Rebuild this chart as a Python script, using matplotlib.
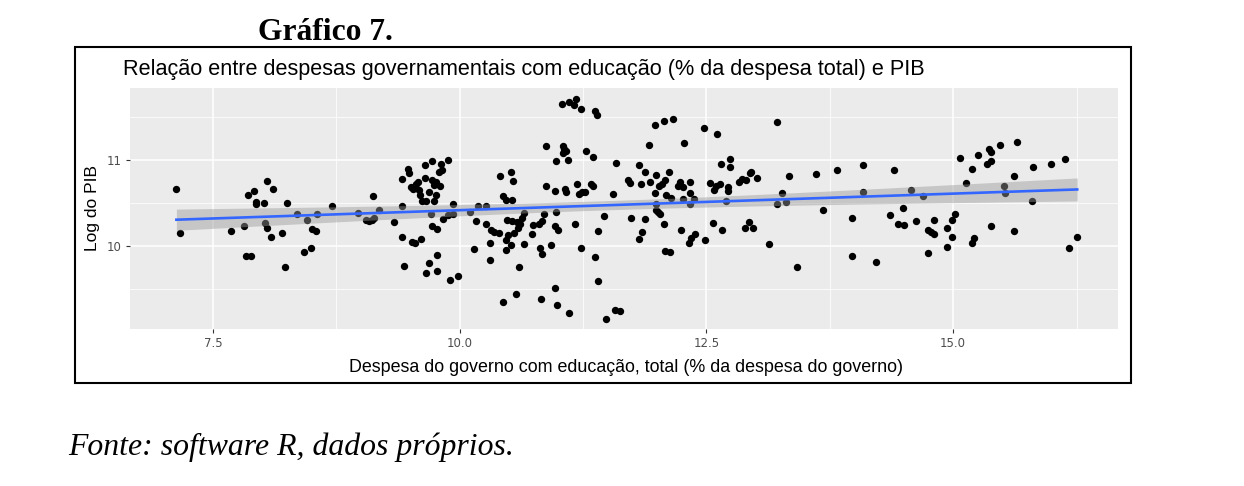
import numpy as np
import matplotlib
matplotlib.use("Agg")
import matplotlib.pyplot as plt
from matplotlib.patches import Rectangle

# despesa com educação (% da despesa do governo)
edu_spend = [
    7.13, 7.17, 7.68, 7.82, 7.84, 7.89, 7.855, 7.915, 7.935, 7.935, 8.017, 8.047,
    8.108, 8.027, 8.05, 8.088, 8.2, 8.226, 8.25, 8.35, 8.42, 8.49, 8.45, 8.50,
    8.54, 8.55, 8.706, 8.97,
    9.047, 9.08, 9.115, 9.13, 9.12, 9.18,
    9.42, 9.48, 9.486, 9.645, 9.723, 9.814, 9.885, 9.824, 9.79, 9.51, 9.554, 9.574,
    9.53, 9.588, 9.598, 9.65, 9.723, 9.757, 9.74, 9.797, 9.686, 9.757, 9.615, 9.662,
    9.743, 9.42, 9.334, 9.706, 9.716, 9.774, 9.828, 9.885, 9.936, 9.936, 9.419, 9.52,
    9.547, 9.605, 9.436, 9.69, 9.767, 9.662, 9.767, 9.899, 9.986,
    10.1, 10.19, 10.27, 10.17, 10.27, 10.32, 10.35, 10.40, 10.31, 10.15, 10.31, 10.405,
    10.44, 10.466, 10.483, 10.466, 10.473, 10.49, 10.44,
    10.878, 10.973, 11.05, 11.06, 11.05, 11.08, 11.10, 11.04, 11.11, 11.18, 11.16, 11.23,
    11.375, 11.39, 11.28, 11.355,
    10.524, 10.537, 10.875, 10.97, 11.064, 11.077, 11.186, 11.21, 11.24, 11.27, 11.33, 11.35,
    11.55, 10.53, 10.53, 10.58, 10.63, 10.65, 10.615, 10.59, 10.55, 10.524, 10.65, 10.6,
    10.575, 10.74, 10.733, 10.8, 10.83, 10.858, 10.976, 10.97, 11.0, 10.81, 10.834, 10.926,
    11.166, 11.233, 11.463, 11.40, 11.368, 11.40, 10.97, 10.824, 10.986, 11.105, 11.483, 11.57,
    11.625, 11.585,
    11.98, 12.07, 12.16, 12.476, 12.61,
    12.953, 13.01, 13.216, 13.34, 13.216, 13.31, 13.27, 13.135, 13.42, 13.61, 13.68, 13.82,
    12.97,
    11.92, 12.27, 11.82, 11.88, 11.926, 11.986, 12.12, 11.71, 11.73, 11.84, 12.02, 12.05,
    12.08, 12.21, 12.23, 12.26, 12.33, 11.98, 12.09, 12.14, 12.26, 12.33, 12.375, 12.33,
    11.986, 11.99, 12.01, 12.03, 11.74, 11.875, 12.07, 11.85, 11.82, 12.24, 12.38, 12.34,
    12.32, 12.49, 12.08, 12.13, 12.57, 12.655, 12.65, 12.74, 12.74, 12.54, 12.58, 12.60,
    12.64, 12.72, 12.72, 12.70, 12.83, 12.865, 12.905, 12.94, 12.89, 12.93,
    13.97, 13.97, 14.085, 14.085, 14.22, 14.405, 14.36, 14.436, 14.50, 14.49, 14.57, 14.62,
    14.69, 14.75, 14.75, 14.78, 14.81, 14.81, 14.94, 14.99, 15.02, 14.99, 14.94, 15.07,
    15.135, 15.186, 15.186, 15.216, 15.25, 15.345, 15.38, 15.36, 15.385, 15.47, 15.385, 15.51,
    15.53, 15.62, 15.62, 15.65, 15.80, 15.81, 15.99, 16.135, 16.175, 16.257,
]

# log do PIB
log_pib = [
    10.665, 10.146, 10.18, 10.227, 9.885, 9.885, 10.596, 10.635, 10.51, 10.49, 10.50, 10.75,
    10.665, 10.27, 10.215, 10.10, 10.146, 9.754, 10.50, 10.369, 9.927, 9.973, 10.30, 10.196,
    10.173, 10.369, 10.469, 10.388,
    10.30, 10.285, 10.30, 10.32, 10.585, 10.423,
    10.78, 10.896, 10.85, 10.935, 10.985, 10.946, 11.0, 10.885, 10.858, 10.685, 10.723, 10.742,
    10.66, 10.646, 10.596, 10.79, 10.76, 10.742, 10.71, 10.69, 10.627, 10.588, 10.527, 10.523,
    10.523, 10.46, 10.277, 10.37, 10.238, 10.192, 10.308, 10.354, 10.37, 10.49, 10.10, 10.05,
    10.03, 10.077, 9.77, 9.808, 9.892, 9.685, 9.708, 9.608, 9.654,
    10.396, 10.465, 10.465, 10.29, 10.26, 10.185, 10.165, 10.146, 10.03, 9.965, 9.84, 10.81,
    10.577, 10.53, 10.30, 10.07, 9.954, 10.13, 9.354,
    11.158, 10.985, 11.16, 11.12, 11.08, 11.10, 11.0, 11.646, 11.665, 11.70, 11.635, 11.59,
    11.56, 11.52, 11.096, 11.035,
    10.858, 10.754, 10.70, 10.638, 10.658, 10.627, 10.723, 10.60, 10.627, 10.63, 10.715, 10.69,
    10.608, 10.538, 10.29, 10.28, 10.32, 10.385, 10.254, 10.215, 10.146, 10.01, 10.023, 9.754,
    9.446, 10.242, 10.138, 10.26, 10.29, 10.37, 10.396, 10.23, 10.19, 9.98, 9.904, 10.01,
    10.254, 9.977, 10.346, 10.177, 9.87, 9.596, 9.51, 9.39, 9.32, 9.223, 9.158, 9.26,
    9.246, 10.965,
    11.40, 11.446, 11.47, 11.365, 11.30,
    10.854, 10.79, 11.44, 10.81, 10.49, 10.51, 10.61, 10.02, 9.754, 10.84, 10.42, 10.877,
    10.21,
    11.17, 11.19, 10.94, 10.86, 10.74, 10.82, 10.86, 10.77, 10.73, 10.72, 10.70, 10.72,
    10.76, 10.70, 10.74, 10.68, 10.74, 10.61, 10.59, 10.56, 10.55, 10.49, 10.55, 10.615,
    10.49, 10.42, 10.40, 10.37, 10.32, 10.31, 10.25, 10.165, 10.08, 10.19, 10.135, 10.096,
    10.03, 10.07, 9.94, 9.93, 10.27, 10.19, 10.954, 11.01, 10.92, 10.73, 10.65, 10.70,
    10.72, 10.685, 10.635, 10.52, 10.74, 10.78, 10.76, 10.846, 10.215, 10.28,
    10.33, 9.885, 10.94, 10.627, 9.82, 10.885, 10.365, 10.26, 10.24, 10.446, 10.646, 10.285,
    10.58, 9.92, 10.185, 10.16, 10.14, 10.30, 10.215, 10.30, 10.377, 10.10, 9.985, 11.02,
    10.735, 10.896, 10.03, 10.09, 11.06, 10.954, 10.985, 11.127, 11.09, 11.165, 10.23, 10.70,
    10.61, 10.81, 10.17, 11.21, 10.52, 10.915, 10.954, 11.01, 9.973, 10.10,
]

plot_title = "Relação entre despesas governamentais com educação (% da despesa total) e PIB"
x_label = "Despesa do governo com educação, total (% da despesa do governo)"
y_label = "Log do PIB"
x_ticks = [7.5, 10.0, 12.5, 15.0]
x_minor = [6.25, 8.75, 11.25, 13.75, 16.25]
y_ticks = [10, 11]
y_minor = [9.5, 10.5, 11.5]

x = np.array(edu_spend)
y = np.array(log_pib)

# linear fit + 95% confidence band (like geom_smooth(method = "lm"))
slope, intercept = np.polyfit(x, y, 1)
xs = np.linspace(x.min(), x.max(), 100)
fit = intercept + slope * xs
resid = y - (intercept + slope * x)
n = len(x)
s = np.sqrt(np.sum(resid ** 2) / (n - 2))
se = s * np.sqrt(1 / n + (xs - x.mean()) ** 2 / np.sum((x - x.mean()) ** 2))
band = 1.968 * se

W, H = 1244, 486
fig = plt.figure(figsize=(W / 100, H / 100), dpi=100)
fig.patch.set_facecolor("white")

ax = fig.add_axes([130 / W, 1 - 329 / H, (1118 - 130) / W, (329 - 88) / H])
ax.set_facecolor("#EBEBEB")
for sp in ax.spines.values():
    sp.set_visible(False)

ax.set_xticks(x_ticks)
ax.set_xticklabels([f"{t:.1f}" for t in x_ticks])
ax.set_xticks(x_minor, minor=True)
ax.set_yticks(y_ticks)
ax.set_yticklabels([str(t) for t in y_ticks])
ax.set_yticks(y_minor, minor=True)
ax.grid(which="major", color="white", linewidth=1.1)
ax.grid(which="minor", color="white", linewidth=0.55)
ax.set_axisbelow(True)
ax.tick_params(which="major", length=3, width=0.8, color="#333333",
               labelsize=8.5, labelcolor="#4D4D4D", pad=3)
ax.tick_params(which="minor", length=0)

ax.scatter(x, y, s=28, color="black", linewidths=0, zorder=2)
ax.fill_between(xs, fit - band, fit + band, color="#999999", alpha=0.45,
                linewidth=0, zorder=3)
ax.plot(xs, fit, color="#3366FF", linewidth=1.9, zorder=4)

ax.set_xlim(6.66, 16.67)
ax.set_ylim(9.04, 11.83)

font = ["Liberation Sans", "DejaVu Sans"]
fig.text(123 / W, 1 - 70 / H, plot_title, ha="left", va="center",
         fontsize=15.6, family=font, color="black")
fig.text(626 / W, 1 - 367 / H, x_label, ha="center", va="center",
         fontsize=12.9, family=font)
fig.text(93 / W, 1 - 208 / H, y_label, ha="center", va="center",
         rotation=90, fontsize=12.5, family=font)

# outer frame of the figure box
fig.patches.append(Rectangle((75 / W, 1 - 383 / H), (1131 - 75) / W, (383 - 47) / H,
                             transform=fig.transFigure, fill=False,
                             edgecolor="black", linewidth=1.5))

serif = ["Liberation Serif", "DejaVu Serif"]
fig.text(258 / W, 1 - 32 / H, "Gráfico 7.", ha="left", va="center",
         fontsize=22.7, fontweight="bold", family=serif)
fig.text(68 / W, 1 - 447 / H, "Fonte: software R, dados próprios.", ha="left",
         va="center", fontsize=22.9, style="italic", family=serif)

fig.savefig("out.png", dpi=100)
